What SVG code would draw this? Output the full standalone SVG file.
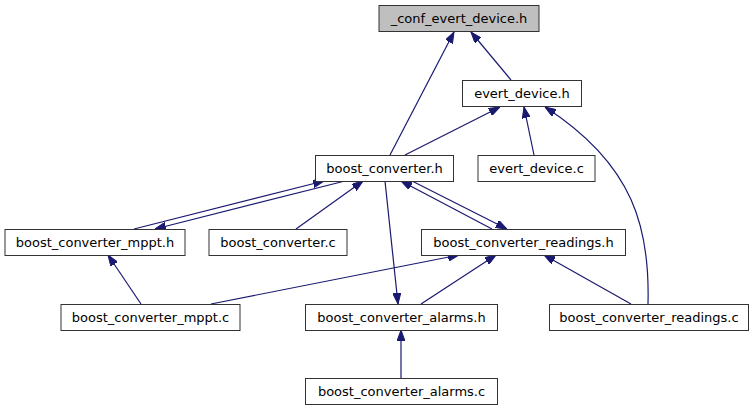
<svg xmlns="http://www.w3.org/2000/svg" width="753" height="411" viewBox="0 0 753 411">
<style>
.n rect{fill:#fff;stroke:#333;stroke-width:1}
.n text{font-family:"DejaVu Sans",sans-serif;font-size:13px;text-anchor:middle;fill:#000}
.e{fill:none;stroke:#191970;stroke-width:1.2;marker-end:url(#ah)}
</style>
<defs>
<marker id="ah" markerUnits="userSpaceOnUse" markerWidth="11" markerHeight="8" refX="11" refY="4" orient="auto">
<path d="M0,0 L11,4 L0,8 z" fill="#191970" stroke="#191970" stroke-width="1"/>
</marker>
</defs>
<g id="connectors">
<line class="e" x1="511" y1="80" x2="471" y2="32"/>
<line class="e" x1="390" y1="155" x2="454" y2="32"/>
<line class="e" x1="405" y1="155" x2="500" y2="107"/>
<line class="e" x1="534" y1="155" x2="524" y2="107"/>
<path class="e" d="M648,304 C650,230 635,165 545,107"/>
<line class="e" x1="134" y1="229" x2="324" y2="181"/>
<line class="e" x1="345" y1="181" x2="155" y2="229"/>
<line class="e" x1="296" y1="229" x2="363" y2="181"/>
<line class="e" x1="492" y1="229" x2="401" y2="181"/>
<line class="e" x1="412" y1="181" x2="507" y2="229"/>
<line class="e" x1="385" y1="181" x2="398" y2="304"/>
<line class="e" x1="141" y1="304" x2="108" y2="255"/>
<line class="e" x1="211" y1="304" x2="459" y2="255"/>
<line class="e" x1="421" y1="304" x2="496" y2="255"/>
<line class="e" x1="631" y1="304" x2="544" y2="255"/>
<line class="e" x1="401" y1="378" x2="401" y2="330"/>
</g>
<g id="n_conf" class="n"><rect x="379" y="5.5" width="160" height="26" style="fill:#bfbfbf"/><text x="459" y="23">_conf_evert_device.h</text></g>
<g id="n_evert_device_h" class="n"><rect x="462.5" y="80.5" width="119" height="26"/><text x="522" y="98">evert_device.h</text></g>
<g id="n_boost_converter_h" class="n"><rect x="315.5" y="155.5" width="138" height="26"/><text x="384.5" y="173">boost_converter.h</text></g>
<g id="n_evert_device_c" class="n"><rect x="478" y="155.5" width="117" height="26"/><text x="536.5" y="173">evert_device.c</text></g>
<g id="n_mppt_h" class="n"><rect x="5" y="229.5" width="180" height="26"/><text x="95" y="247">boost_converter_mppt.h</text></g>
<g id="n_boost_converter_c" class="n"><rect x="209" y="229.5" width="138" height="26"/><text x="278" y="247">boost_converter.c</text></g>
<g id="n_readings_h" class="n"><rect x="421.5" y="229.5" width="204" height="26"/><text x="523.5" y="247">boost_converter_readings.h</text></g>
<g id="n_mppt_c" class="n"><rect x="61" y="304.5" width="179" height="26"/><text x="150.5" y="322">boost_converter_mppt.c</text></g>
<g id="n_alarms_h" class="n"><rect x="305.5" y="304.5" width="192" height="26"/><text x="401.5" y="322">boost_converter_alarms.h</text></g>
<g id="n_readings_c" class="n"><rect x="549.5" y="304.5" width="199" height="26"/><text x="649" y="322">boost_converter_readings.c</text></g>
<g id="n_alarms_c" class="n"><rect x="305.5" y="378.5" width="192" height="26"/><text x="401.5" y="396">boost_converter_alarms.c</text></g>
</svg>
